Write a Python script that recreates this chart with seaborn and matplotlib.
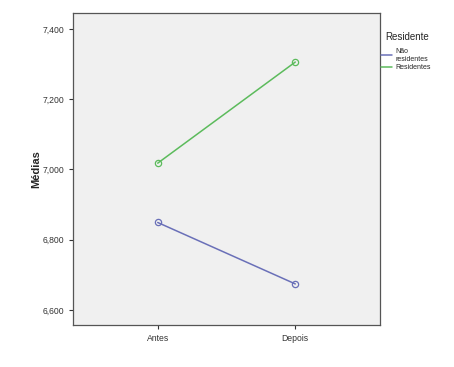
import matplotlib
matplotlib.use("Agg")
import matplotlib.pyplot as plt
import matplotlib.ticker as mticker
import seaborn as sns
import pandas as pd

momentos = ["Antes", "Depois"]
grupos = ["Não\nresidentes", "Residentes"]
nao_residentes = [6.849, 6.674]
residentes = [7.018, 7.306]
cores = ["#6a70b8", "#5cbb5c"]

df = pd.DataFrame({
    "Momento": momentos * 2,
    "Residente": [grupos[0]] * 2 + [grupos[1]] * 2,
    "Média": nao_residentes + residentes,
})

sns.set_style("white")
plt.rcParams['font.family'] = ['Liberation Sans', 'DejaVu Sans']

fig = plt.figure(figsize=(4.54, 3.67), dpi=100)
ax = fig.add_axes([73/454, 42/367, 307/454, 312/367])
ax.set_facecolor("#f0f0f0")

sns.lineplot(data=df, x="Momento", y="Média", hue="Residente",
             palette=cores, marker="o", markersize=4.5,
             markerfacecolor="none", linewidth=1.1, ax=ax)
for line, c in zip(ax.get_lines(), cores):
    line.set_markeredgecolor(c)
    line.set_markeredgewidth(0.9)

ax.set_xlim(-0.616, 1.616)
ax.set_ylim(6.557, 7.4457)
ax.set_yticks([6.6, 6.8, 7.0, 7.2, 7.4])
ax.yaxis.set_major_formatter(mticker.FuncFormatter(lambda v, p: f"{v:.3f}".replace(".", ",")))
ax.set_xlabel("")
ax.set_ylabel("Médias", fontsize=8, fontweight="bold", labelpad=1)
ax.tick_params(axis="both", labelsize=6.2, colors="#333333", length=3, width=0.8,
               left=True, bottom=True)
for s in ax.spines.values():
    s.set_color("#555555")
    s.set_linewidth(0.9)

leg = ax.legend(title="Residente", loc="upper left", bbox_to_anchor=(0.995, 0.948),
                frameon=False, fontsize=5, title_fontsize=7, handlelength=1.6,
                handletextpad=0.4, labelspacing=0.2, borderaxespad=0)
leg._legend_box.align = "left"
leg._legend_box.sep = 4
leg.get_title().set_position((4, 0))
for h in leg.legend_handles:
    h.set_marker("")

fig.savefig("out.png", dpi=100, facecolor="white")
